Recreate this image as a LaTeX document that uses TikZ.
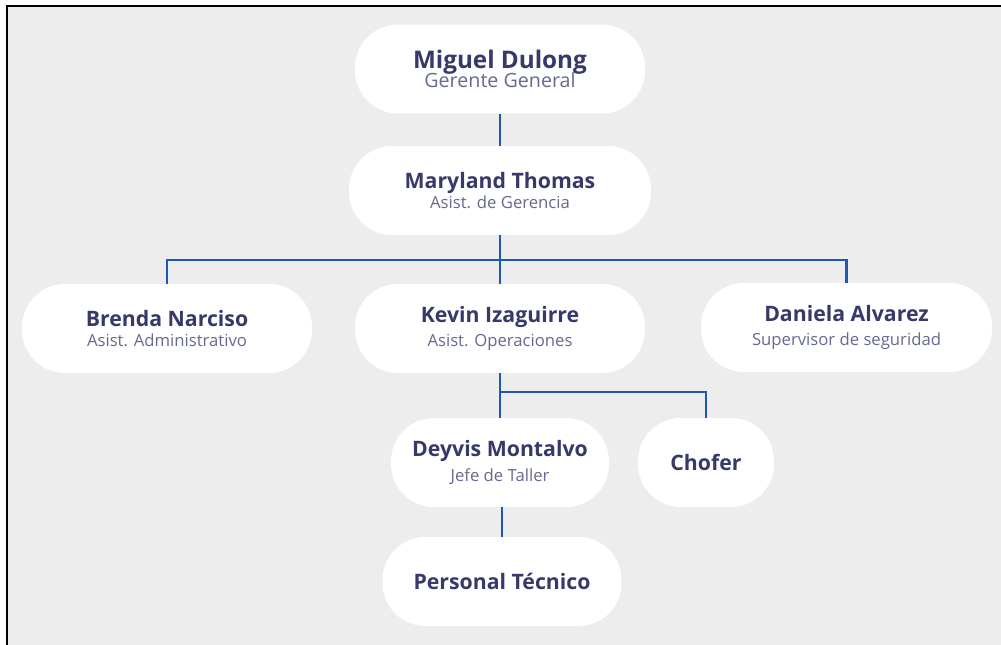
\documentclass[tikz,border=0pt]{standalone}
\usepackage{fontspec}
\setmainfont{Open Sans}
\usepackage{tikz}

\definecolor{fondo}{HTML}{EDEDED}
\definecolor{linea}{HTML}{1D58B5}
\definecolor{tinta}{HTML}{363969}
\definecolor{gris}{HTML}{666990}

\newcommand{\persona}[1]{{\fontsize{12.1}{13}\selectfont\bfseries\color{tinta}#1}}
\newcommand{\puesto}[1]{{\color{gris}#1}}

\tikzset{
  caja/.style={fill=white, rounded corners=0.86cm, minimum height=1.78cm,
    align=center, inner sep=0pt, font=\fontsize{9.5}{13}\selectfont},
  enlace/.style={draw=linea, line width=1.3pt},
}

\begin{document}
\begin{tikzpicture}[x=0.02cm, y=-0.02cm]
  \useasboundingbox (0,0) rectangle (1001,645);
  \fill[fondo] (7,6) rectangle (1001,645);
  \draw[line width=1.2pt] (7,645) -- (7,6) -- (1001,6);

  % personas
  \node[caja, minimum width=5.8cm, font=\fontsize{11.2}{13}\selectfont](miguel) at (500,69)
    {{\fontsize{13.8}{14}\selectfont\bfseries\color{tinta}Miguel Dulong}\\[-2.5pt]\puesto{Gerente General}};
  \node[caja, minimum width=6.04cm](maryland) at (500,190.5)
    {\persona{Maryland Thomas}\\[-1.5pt]\puesto{Asist. de Gerencia}};
  \node[caja, minimum width=5.8cm](brenda) at (167,328.5)
    {\persona{Brenda Narciso}\\[-1.5pt]\puesto{Asist. Administrativo}};
  \node[caja, minimum width=5.8cm](kevin) at (500,328.5)
    {\persona{Kevin Izaguirre}\\[1pt]\puesto{Asist. Operaciones}};
  \node[caja, minimum width=5.82cm](daniela) at (846.5,327.5)
    {\persona{Daniela Alvarez}\\[0.5pt]\puesto{Supervisor de seguridad}};
  \node[caja, minimum width=4.36cm](deyvis) at (500,462.5)
    {\persona{Deyvis Montalvo}\\[1pt]\puesto{Jefe de Taller}};
  \node[caja, minimum width=2.72cm](chofer) at (706,462.5)
    {\persona{Chofer}};
  \node[caja, minimum width=4.78cm](personal) at (502,581.5)
    {\persona{Personal Técnico}};

  % enlaces
  \draw[enlace] (miguel) -- (maryland);
  \draw[enlace] (maryland.south) -- (kevin.north);
  \draw[enlace] (maryland.south) -- ++(0,25) coordinate (bus) -| (brenda.north);
  \draw[enlace] (bus) -| (daniela.north);
  \draw[enlace] (kevin.south) -- (deyvis.north);
  \draw[enlace] (kevin.south) ++(0,19) -| (chofer.north);
  \draw[enlace] (deyvis.south -| personal.north) -- (personal.north);
\end{tikzpicture}
\end{document}
